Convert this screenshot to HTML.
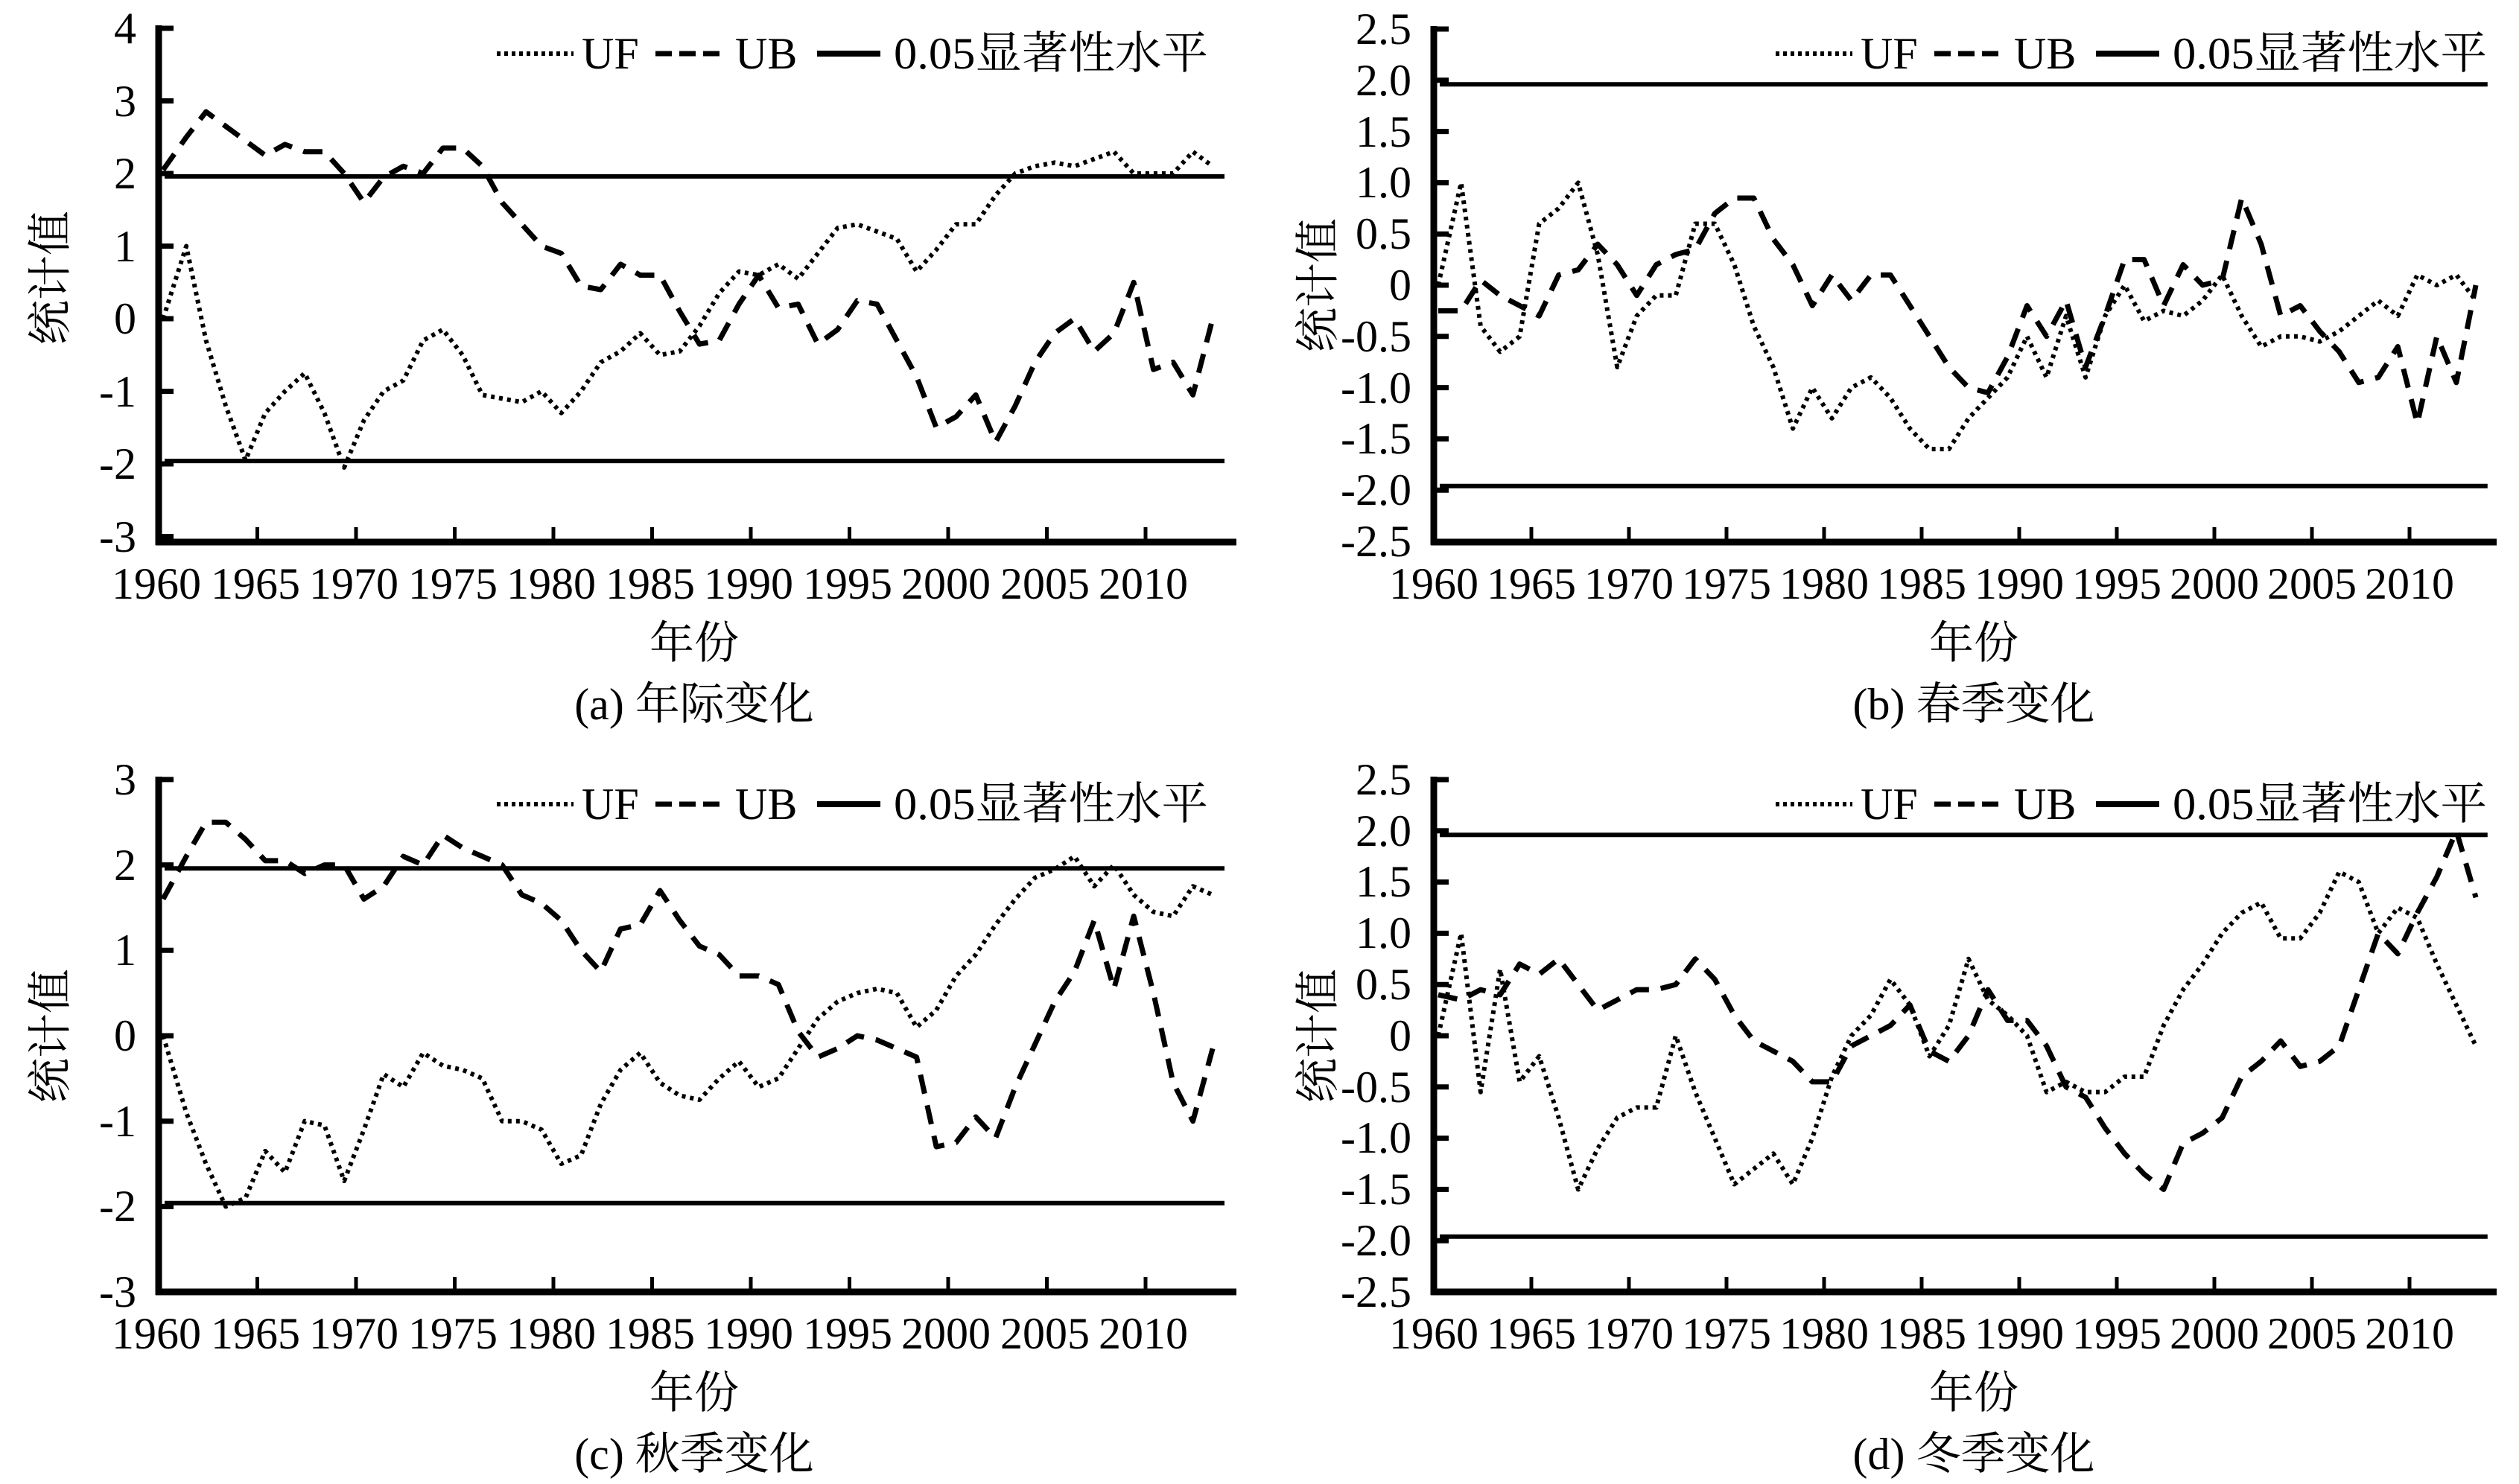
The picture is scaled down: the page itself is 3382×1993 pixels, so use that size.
<!DOCTYPE html>
<html><head><meta charset="utf-8">
<style>
html,body{margin:0;padding:0;background:#fff;}
svg{display:block;}
text{font-family:"Liberation Serif","Noto Serif CJK SC","Noto Sans CJK SC",serif;fill:#000;}
</style></head>
<body>
<svg id="s" width="3382" height="1993" viewBox="0 0 3382 1993" xmlns="http://www.w3.org/2000/svg">
<g font-size="60">
<g text-anchor="end">
<text x="183" y="58">4</text><text x="183" y="156">3</text><text x="183" y="253">2</text><text x="183" y="351">1</text><text x="183" y="448">0</text><text x="183" y="546">-1</text><text x="183" y="643">-2</text><text x="183" y="741">-3</text>
</g>
<g text-anchor="middle">
<text x="210" y="804">1960</text><text x="343" y="804">1965</text><text x="475" y="804">1970</text><text x="608" y="804">1975</text><text x="740" y="804">1980</text><text x="873" y="804">1985</text><text x="1005" y="804">1990</text><text x="1138" y="804">1995</text><text x="1270" y="804">2000</text><text x="1403" y="804">2005</text><text x="1535" y="804">2010</text>
<text x="932" y="884">年份</text>
<text x="932" y="966">(a) 年际变化</text>
<text transform="translate(88,373) rotate(-90)">统计值</text>
</g>
<g text-anchor="end">
<text x="1895" y="59">2.5</text><text x="1895" y="128">2.0</text><text x="1895" y="197">1.5</text><text x="1895" y="265">1.0</text><text x="1895" y="334">0.5</text><text x="1895" y="403">0</text><text x="1895" y="472">-0.5</text><text x="1895" y="541">-1.0</text><text x="1895" y="609">-1.5</text><text x="1895" y="678">-2.0</text><text x="1895" y="747">-2.5</text>
</g>
<g text-anchor="middle">
<text x="1925" y="804">1960</text><text x="2056" y="804">1965</text><text x="2187" y="804">1970</text><text x="2318" y="804">1975</text><text x="2449" y="804">1980</text><text x="2580" y="804">1985</text><text x="2711" y="804">1990</text><text x="2842" y="804">1995</text><text x="2973" y="804">2000</text><text x="3104" y="804">2005</text><text x="3235" y="804">2010</text>
<text x="2650" y="884">年份</text>
<text x="2650" y="966">(b) 春季变化</text>
<text transform="translate(1790,383) rotate(-90)">统计值</text>
</g>
<g text-anchor="end">
<text x="183" y="1067">3</text><text x="183" y="1182">2</text><text x="183" y="1296">1</text><text x="183" y="1411">0</text><text x="183" y="1526">-1</text><text x="183" y="1640">-2</text><text x="183" y="1755">-3</text>
</g>
<g text-anchor="middle">
<text x="210" y="1811">1960</text><text x="343" y="1811">1965</text><text x="475" y="1811">1970</text><text x="608" y="1811">1975</text><text x="740" y="1811">1980</text><text x="873" y="1811">1985</text><text x="1005" y="1811">1990</text><text x="1138" y="1811">1995</text><text x="1270" y="1811">2000</text><text x="1403" y="1811">2005</text><text x="1535" y="1811">2010</text>
<text x="932" y="1891">年份</text>
<text x="932" y="1973">(c) 秋季变化</text>
<text transform="translate(88,1391) rotate(-90)">统计值</text>
</g>
<g text-anchor="end">
<text x="1895" y="1067">2.5</text><text x="1895" y="1136">2.0</text><text x="1895" y="1204">1.5</text><text x="1895" y="1273">1.0</text><text x="1895" y="1342">0.5</text><text x="1895" y="1411">0</text><text x="1895" y="1480">-0.5</text><text x="1895" y="1548">-1.0</text><text x="1895" y="1617">-1.5</text><text x="1895" y="1686">-2.0</text><text x="1895" y="1755">-2.5</text>
</g>
<g text-anchor="middle">
<text x="1925" y="1811">1960</text><text x="2056" y="1811">1965</text><text x="2187" y="1811">1970</text><text x="2318" y="1811">1975</text><text x="2449" y="1811">1980</text><text x="2580" y="1811">1985</text><text x="2711" y="1811">1990</text><text x="2842" y="1811">1995</text><text x="2973" y="1811">2000</text><text x="3104" y="1811">2005</text><text x="3235" y="1811">2010</text>
<text x="2650" y="1891">年份</text>
<text x="2650" y="1973">(d) 冬季变化</text>
<text transform="translate(1790,1391) rotate(-90)">统计值</text>
</g>
<g>
<text x="781" y="92">UF</text><text x="987" y="92">UB</text><text x="1200" y="92" textLength="422" lengthAdjust="spacingAndGlyphs">0.05显著性水平</text>
<text x="2498" y="92">UF</text><text x="2704" y="92">UB</text><text x="2917" y="92" textLength="422" lengthAdjust="spacingAndGlyphs">0.05显著性水平</text>
<text x="781" y="1100">UF</text><text x="987" y="1100">UB</text><text x="1200" y="1100" textLength="422" lengthAdjust="spacingAndGlyphs">0.05显著性水平</text>
<text x="2498" y="1100">UF</text><text x="2704" y="1100">UB</text><text x="2917" y="1100" textLength="422" lengthAdjust="spacingAndGlyphs">0.05显著性水平</text>
</g>
</g>
<g id="plots" fill="none" stroke="#000"></g>
</svg>
<script>
var NS="http://www.w3.org/2000/svg",G=document.getElementById("plots");
function el(n,a){var e=document.createElementNS(NS,n);for(var k in a)e.setAttribute(k,a[k]);G.appendChild(e);return e;}
var P=[
{ax:213,end:1660,dx:26.5,y0:428,u:97.5,top:38,bot:728,ticks:[4,3,2,1,0,-1,-2,-3],ly:72,lx:667,
UF:[0,1.0,-0.3,-1.2,-1.95,-1.3,-1.0,-0.75,-1.3,-2.05,-1.4,-1.0,-0.85,-0.3,-0.15,-0.5,-1.05,-1.1,-1.15,-1.0,-1.3,-1.0,-0.6,-0.45,-0.2,-0.5,-0.45,-0.1,0.35,0.65,0.6,0.75,0.55,0.9,1.25,1.3,1.2,1.1,0.65,0.95,1.3,1.3,1.7,2.0,2.1,2.15,2.1,2.2,2.3,2.0,2.0,2.0,2.3,2.1],
UB:[2.05,2.5,2.85,2.65,2.45,2.25,2.4,2.3,2.3,2.0,1.6,1.95,2.1,2.0,2.35,2.35,2.1,1.6,1.3,1.0,0.9,0.45,0.4,0.75,0.6,0.6,0.1,-0.35,-0.3,0.2,0.6,0.15,0.2,-0.35,-0.15,0.25,0.2,-0.3,-0.8,-1.5,-1.35,-1.05,-1.7,-1.2,-0.6,-0.2,0.0,-0.45,-0.2,0.5,-0.7,-0.6,-1.05,0.0]},
{ax:1925,end:3352,dx:26.2,y0:383,u:137.6,top:39,bot:728,ticks:[2.5,2,1.5,1,0.5,0,-0.5,-1,-1.5,-2,-2.5],ly:72,lx:2384,
UF:[0,1.0,-0.4,-0.65,-0.5,0.6,0.75,1.0,0.3,-0.8,-0.3,-0.1,-0.1,0.6,0.6,0.2,-0.4,-0.8,-1.4,-1.0,-1.3,-1.0,-0.9,-1.1,-1.4,-1.6,-1.6,-1.3,-1.1,-0.9,-0.5,-0.9,-0.3,-0.9,-0.3,0.0,-0.35,-0.25,-0.3,-0.15,0.1,-0.3,-0.6,-0.5,-0.5,-0.55,-0.45,-0.3,-0.15,-0.3,0.1,0.0,0.1,-0.15],
UB:[-0.25,-0.25,0.05,-0.1,-0.2,-0.3,0.1,0.15,0.4,0.2,-0.1,0.2,0.3,0.35,0.7,0.85,0.85,0.45,0.2,-0.2,0.1,-0.15,0.1,0.1,-0.2,-0.5,-0.8,-1.0,-1.05,-0.7,-0.2,-0.5,-0.15,-0.8,-0.3,0.25,0.25,-0.2,0.2,0.0,0.05,0.85,0.4,-0.3,-0.2,-0.45,-0.65,-0.95,-0.9,-0.6,-1.35,-0.5,-0.95,0.0]},
{ax:213,end:1660,dx:26.5,y0:1391,u:114.7,top:1047,bot:1735,ticks:[3,2,1,0,-1,-2,-3],ly:1080,lx:667,
UF:[0,-0.9,-1.5,-2.0,-1.9,-1.35,-1.6,-1.0,-1.05,-1.7,-1.1,-0.45,-0.6,-0.2,-0.35,-0.4,-0.5,-1.0,-1.0,-1.1,-1.5,-1.4,-0.8,-0.4,-0.2,-0.55,-0.7,-0.75,-0.5,-0.3,-0.6,-0.5,-0.15,0.2,0.4,0.5,0.55,0.5,0.1,0.3,0.7,0.95,1.3,1.6,1.85,1.95,2.1,1.75,2.0,1.65,1.45,1.4,1.75,1.65],
UB:[1.6,2.1,2.5,2.5,2.3,2.05,2.05,1.9,2.0,2.0,1.6,1.75,2.1,2.0,2.35,2.2,2.1,2.0,1.65,1.55,1.35,1.0,0.75,1.25,1.3,1.7,1.35,1.05,0.95,0.7,0.7,0.6,0.05,-0.25,-0.15,0.0,-0.05,-0.15,-0.25,-1.3,-1.25,-0.95,-1.2,-0.6,-0.1,0.4,0.75,1.35,0.55,1.4,0.5,-0.55,-1.0,-0.15]},
{ax:1925,end:3352,dx:26.2,y0:1391,u:137.6,top:1047,bot:1735,ticks:[2.5,2,1.5,1,0.5,0,-0.5,-1,-1.5,-2,-2.5],ly:1080,lx:2384,
UF:[0,1.0,-0.55,0.65,-0.45,-0.2,-0.8,-1.5,-1.1,-0.8,-0.7,-0.7,0.0,-0.55,-1.0,-1.45,-1.3,-1.15,-1.45,-1.0,-0.4,0.0,0.2,0.55,0.3,-0.2,0.1,0.75,0.35,0.2,0.0,-0.55,-0.45,-0.55,-0.55,-0.4,-0.4,0.1,0.45,0.7,1.0,1.2,1.3,0.95,0.95,1.2,1.6,1.5,1.0,1.25,1.15,0.7,0.3,-0.1],
UB:[0.4,0.35,0.45,0.4,0.7,0.6,0.75,0.5,0.25,0.35,0.45,0.45,0.5,0.75,0.55,0.2,-0.05,-0.15,-0.25,-0.45,-0.45,-0.1,0.0,0.1,0.3,-0.15,-0.25,0.0,0.45,0.15,0.15,-0.1,-0.5,-0.6,-0.9,-1.15,-1.35,-1.5,-1.05,-0.95,-0.8,-0.4,-0.25,-0.05,-0.3,-0.25,-0.1,0.45,1.0,0.8,1.2,1.55,2.0,1.35]}
];
P.forEach(function(p){
  var Y=function(v){return p.y0-v*p.u;}, X=function(i){return i==0?p.ax+6:p.ax+(i+0.4)*p.dx;};
  [1.96,-1.96].forEach(function(t){el("line",{x1:p.ax+8,x2:p.ax+54*p.dx,y1:Y(t),y2:Y(t),"stroke-width":6});});
  var a=[],b=[];
  for(var i=0;i<p.UF.length;i++){a.push(X(i)+","+Y(p.UF[i]));b.push(X(i)+","+Y(p.UB[i]));}
  el("polyline",{points:a.join(" "),"stroke-width":6,"stroke-dasharray":"5 6","stroke-linejoin":"round"});
  el("polyline",{points:b.join(" "),"stroke-width":7,"stroke-dasharray":"26 16","stroke-linejoin":"round"});
  el("line",{x1:p.ax,x2:p.ax,y1:p.top-4,y2:p.bot+4,"stroke-width":9});
  el("line",{x1:p.ax-4,x2:p.end,y1:p.bot,y2:p.bot,"stroke-width":9});
  p.ticks.forEach(function(t){el("line",{x1:p.ax,x2:p.ax+20,y1:Y(t),y2:Y(t),"stroke-width":7});});
  for(var k=1;k<=10;k++){var x=p.ax+5*k*p.dx;el("line",{x1:x,x2:x,y1:p.bot,y2:p.bot-20,"stroke-width":5});}
  el("line",{x1:p.lx,x2:p.lx+103,y1:p.ly,y2:p.ly,"stroke-width":6,"stroke-dasharray":"5 5"});
  el("line",{x1:p.lx+213,x2:p.lx+309,y1:p.ly,y2:p.ly,"stroke-width":7,"stroke-dasharray":"22 10"});
  el("line",{x1:p.lx+430,x2:p.lx+515,y1:p.ly,y2:p.ly,"stroke-width":8});
});
</script>
</body></html>
